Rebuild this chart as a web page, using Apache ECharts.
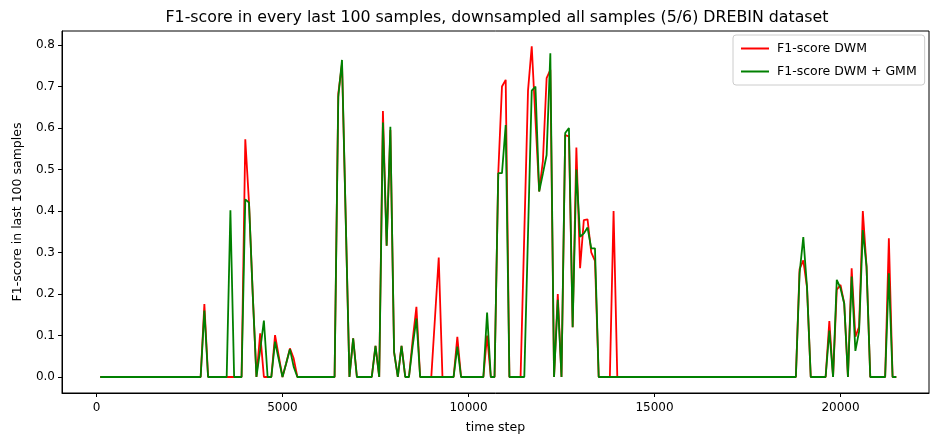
<!DOCTYPE html>
<html>
<head>
<meta charset="utf-8">
<script src="https://cdn.jsdelivr.net/npm/echarts@6/dist/echarts.min.js"></script>
<style>
html,body{margin:0;padding:0;background:#fff;}
#chart{width:931px;height:436px;}
</style>
</head>
<body>
<div id="chart"></div>
<script>
// Data: [time step, F1-score] vertices (zeros where the line touches 0)
const dwm = [
 [100,0],[2800,0],[2900,0.176],[3000,0],[3900,0],[4000,0.573],[4100,0.42],[4200,0.2],[4300,0],
 [4400,0.105],[4500,0],[4700,0],[4800,0.101],[4900,0.05],[5000,0],[5100,0.033],[5200,0.069],
 [5300,0.045],[5400,0],[6400,0],[6500,0.683],[6600,0.755],[6700,0.38],[6800,0],[6900,0.093],
 [7000,0],[7400,0],[7500,0.075],[7600,0],[7700,0.641],[7800,0.316],[7900,0.595],[8000,0.06],
 [8100,0],[8200,0.075],[8300,0],[8400,0],[8500,0.09],[8600,0.169],[8700,0],[9000,0],
 [9100,0.144],[9200,0.288],[9300,0],[9600,0],[9700,0.097],[9800,0],[10400,0],[10500,0.1],
 [10600,0],[10700,0],[10800,0.491],[10900,0.70],[11000,0.716],[11100,0],[11400,0],[11500,0.345],
 [11600,0.69],[11700,0.797],[11800,0.62],[11900,0.447],[12000,0.52],[12100,0.72],[12200,0.74],
 [12300,0],[12400,0.2],[12500,0],[12600,0.583],[12700,0.58],[12800,0.12],[12900,0.553],
 [13000,0.262],[13100,0.378],[13200,0.38],[13300,0.30],[13400,0.28],[13500,0],[13800,0],
 [13900,0.40],[14000,0],[18800,0],[18900,0.26],[19000,0.281],[19100,0.216],[19200,0],[19600,0],
 [19700,0.135],[19800,0],[19900,0.21],[20000,0.222],[20100,0.177],[20200,0],[20300,0.262],
 [20400,0.097],[20500,0.121],[20600,0.40],[20700,0.266],[20800,0],[21200,0],[21300,0.334],
 [21400,0],[21500,0]
];
const dwmGmm = [
 [100,0],[2800,0],[2900,0.16],[3000,0],[3500,0],[3600,0.402],[3700,0],[3900,0],[4000,0.428],
 [4100,0.42],[4200,0.2],[4300,0],[4400,0.065],[4500,0.136],[4600,0],[4700,0],[4800,0.085],
 [4900,0.042],[5000,0],[5100,0.033],[5200,0.067],[5300,0.025],[5400,0],[6400,0],[6500,0.675],
 [6600,0.764],[6700,0.38],[6800,0],[6900,0.093],[7000,0],[7400,0],[7500,0.075],[7600,0],
 [7700,0.613],[7800,0.316],[7900,0.603],[8000,0.06],[8100,0],[8200,0.075],[8300,0],[8400,0],
 [8500,0.075],[8600,0.141],[8700,0],[9600,0],[9700,0.073],[9800,0],[10400,0],[10500,0.155],
 [10600,0],[10700,0],[10800,0.491],[10900,0.491],[11000,0.607],[11100,0],[11500,0],[11600,0.345],
 [11700,0.69],[11800,0.70],[11900,0.447],[12000,0.49],[12100,0.535],[12200,0.78],[12300,0],
 [12400,0.186],[12500,0],[12600,0.588],[12700,0.60],[12800,0.12],[12900,0.50],[13000,0.338],
 [13100,0.346],[13200,0.36],[13300,0.31],[13400,0.31],[13500,0],[18800,0],[18900,0.25],
 [19000,0.337],[19100,0.216],[19200,0],[19600,0],[19700,0.112],[19800,0],[19900,0.234],
 [20000,0.214],[20100,0.177],[20200,0],[20300,0.242],[20400,0.063],[20500,0.11],[20600,0.354],
 [20700,0.266],[20800,0],[21200,0],[21300,0.25],[21400,0],[21500,0]
];
const xTicks = [0, 5000, 10000, 15000, 20000];
const yTicks = [0.0, 0.1, 0.2, 0.3, 0.4, 0.5, 0.6, 0.7, 0.8];
const seriesNames = ['F1-score DWM', 'F1-score DWM + GMM'];
const titleText = 'F1-score in every last 100 samples, downsampled all samples (5/6) DREBIN dataset';

const font = 'DejaVu Sans';
const chart = echarts.init(document.getElementById('chart'), null, {renderer: 'canvas'});
chart.setOption({
  animation: false,
  backgroundColor: '#fff',
  title: {
    text: titleText, left: 492, top: 5, textAlign: 'center',
    textStyle: {fontFamily: font, fontSize: 15.8, fontWeight: 'normal', color: '#000'}
  },
  legend: {
    orient: 'vertical', left: 733, top: 35,
    itemWidth: 28, itemHeight: 2, itemGap: 10,
    padding: [7, 8, 7, 8],
    borderColor: '#cccccc', borderWidth: 1, borderRadius: 3,
    backgroundColor: 'rgba(255,255,255,0.8)',
    textStyle: {fontFamily: font, fontSize: 12.5, color: '#000', padding: [0,0,0,3]},
    data: [{name: seriesNames[0], icon: 'rect'}, {name: seriesNames[1], icon: 'rect'}]
  },
  grid: {left: 62, right: 2, top: 31, bottom: 43, show: true, borderColor: '#000', borderWidth: 1,
    containLabel: false, outerBoundsMode: 'none'},
  xAxis: {
    type: 'value', min: -927, max: 22379,
    name: 'time step', nameLocation: 'middle', nameGap: 28,
    nameTextStyle: {fontFamily: font, fontSize: 12.5, color: '#000'},
    splitLine: {show: false},
    axisLine: {show: true, onZero: false, lineStyle: {color: '#000', width: 1}},
    axisTick: {show: true, length: 4, lineStyle: {color: '#000'}, customValues: xTicks},
    axisLabel: {fontFamily: font, fontSize: 12, color: '#000', margin: 9, customValues: xTicks,
      formatter: v => String(Math.round(v))}
  },
  yAxis: {
    type: 'value', min: -0.0386, max: 0.8337,
    name: 'F1-score in last 100 samples', nameLocation: 'middle', nameGap: 38, nameRotate: 90,
    nameTextStyle: {fontFamily: font, fontSize: 12.5, color: '#000'},
    splitLine: {show: false},
    axisLine: {show: true, onZero: false, lineStyle: {color: '#000', width: 1}},
    axisTick: {show: true, length: 4, lineStyle: {color: '#000'}, customValues: yTicks},
    axisLabel: {fontFamily: font, fontSize: 12, color: '#000', margin: 7, customValues: yTicks,
      formatter: v => v.toFixed(1)}
  },
  series: [
    {name: seriesNames[0], type: 'line', data: dwm, showSymbol: false, symbol: 'none',
     lineStyle: {color: '#ff0000', width: 1.8}, itemStyle: {color: '#ff0000'}},
    {name: seriesNames[1], type: 'line', data: dwmGmm, showSymbol: false, symbol: 'none',
     lineStyle: {color: '#008000', width: 1.8}, itemStyle: {color: '#008000'}}
  ]
});
</script>
</body>
</html>
